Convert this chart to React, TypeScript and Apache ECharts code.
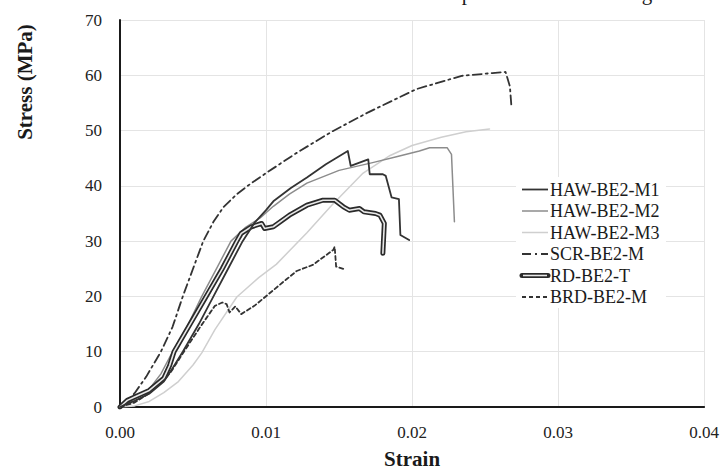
import React, { useEffect, useRef } from "react";
import * as echarts from "echarts";

// Strain–stress records for each specimen
const hawM1Strain = [0, 0.0005, 0.001, 0.002, 0.003, 0.0036, 0.0043, 0.0054, 0.0064, 0.0074, 0.0084, 0.0092, 0.01, 0.0105, 0.0117, 0.0128, 0.0141, 0.0156, 0.0158, 0.017, 0.0171, 0.018, 0.0182, 0.0186, 0.0191, 0.0192, 0.0198];
const hawM1Stress = [0, 0.6, 1.1, 2.4, 4.6, 7, 10, 15, 20, 25, 30, 33.3, 35.6, 37.2, 39.6, 41.5, 43.9, 46.3, 43.6, 44.8, 42.1, 42.1, 41.8, 37.9, 37.6, 31.1, 30.2];

const hawM2Strain = [0, 0.0005, 0.001, 0.002, 0.0028, 0.0034, 0.0045, 0.0056, 0.0066, 0.0076, 0.0086, 0.0096, 0.0105, 0.0116, 0.0128, 0.015, 0.0173, 0.019, 0.0205, 0.0212, 0.0224, 0.0227, 0.0229];
const hawM2Stress = [0, 0.8, 1.6, 3.2, 6, 9, 14, 20, 25, 30, 32.5, 34.2, 36.3, 38.5, 40.5, 42.8, 44.2, 45.3, 46.3, 46.9, 46.9, 45.7, 33.5];

const hawM3Strain = [0, 0.001, 0.002, 0.003, 0.004, 0.005, 0.0056, 0.0065, 0.008, 0.0095, 0.0107, 0.0128, 0.0145, 0.0166, 0.0185, 0.02, 0.022, 0.0237, 0.0253];
const hawM3Stress = [0, 0.2, 1, 2.6, 4.6, 7.6, 9.8, 14, 19.9, 23.4, 25.8, 31.5, 36.5, 42.2, 45.5, 47.3, 48.8, 49.8, 50.3];

const scrStrain = [0, 0.0005, 0.001, 0.0018, 0.0028, 0.0036, 0.0043, 0.005, 0.0057, 0.0064, 0.0071, 0.008, 0.009, 0.01, 0.012, 0.0145, 0.017, 0.0203, 0.0234, 0.0255, 0.0264, 0.0267, 0.0268];
const scrStress = [0, 0.9, 2.5, 5.5, 10, 14.5, 20, 25, 30, 33.5, 36.2, 38.5, 40.5, 42.3, 45.8, 49.8, 53.3, 57.5, 59.9, 60.4, 60.6, 58, 54.5];

const rdStrain = [0, 0.0005, 0.001, 0.002, 0.003, 0.0034, 0.0037, 0.0048, 0.0059, 0.007, 0.008, 0.0083, 0.009, 0.0097, 0.0099, 0.0105, 0.0116, 0.0128, 0.0139, 0.0147, 0.0153, 0.0157, 0.0164, 0.0167, 0.0175, 0.0178, 0.0181, 0.018];
const rdStress = [0, 1.2, 1.8, 3, 5.2, 7.5, 10, 15, 20, 25, 30, 31.4, 32.6, 33.2, 32.3, 32.6, 34.7, 36.5, 37.4, 37.4, 36.2, 35.6, 35.9, 35.3, 35, 34.7, 33.2, 27.8];

const brdStrain = [0, 0.001, 0.002, 0.003, 0.0035, 0.0045, 0.0055, 0.0065, 0.007, 0.0073, 0.0075, 0.0079, 0.0083, 0.0092, 0.0098, 0.0114, 0.0121, 0.0132, 0.0146, 0.0147, 0.0148, 0.0154];
const brdStress = [0, 0.8, 2.5, 4.8, 6.4, 10.5, 14.5, 18.3, 18.9, 18.6, 17.1, 18.2, 16.8, 18.3, 19.6, 23.1, 24.6, 25.7, 28.4, 29, 25.4, 24.9];

const legendNames = ["HAW-BE2-M1", "HAW-BE2-M2", "HAW-BE2-M3", "SCR-BE2-M", "RD-BE2-T", "BRD-BE2-M"];

const pairs = (xs: number[], ys: number[]) => xs.map((x, i) => [x, ys[i]]);

const FONT = "'Liberation Serif', 'Times New Roman', serif";
const DARK = "#333333";

export default function App() {
  const ref = useRef<HTMLDivElement>(null);

  useEffect(() => {
    if (!ref.current) return;
    const chart = echarts.init(ref.current, null, { renderer: "svg" });

    const line = (name: string, xs: number[], ys: number[], style: any, z = 2) => ({
      type: "line",
      name,
      data: pairs(xs, ys),
      showSymbol: false,
      symbol: "none",
      z,
      lineStyle: { cap: "round", join: "round", ...style },
    });

    // legend box drawn with graphics, on a white panel over the grid
    const legendX0 = 522;
    const legendX1 = 548;
    const rowY = [189.5, 211, 232.5, 254, 275.5, 297];
    const sampleStyles: any[] = [
      { stroke: DARK, lineWidth: 1.8 },
      { stroke: "#8c8c8c", lineWidth: 1.5 },
      { stroke: "#cfcfcf", lineWidth: 1.5 },
      { stroke: DARK, lineWidth: 1.8, lineDash: [9, 4, 2, 4] },
      null,
      { stroke: DARK, lineWidth: 1.8, lineDash: [4, 3] },
    ];
    const legendGraphics: any[] = [
      {
        type: "rect",
        shape: { x: 516, y: 177, width: 150, height: 131 },
        style: { fill: "#ffffff" },
        z: 10,
      },
    ];
    legendNames.forEach((name, i) => {
      const y = rowY[i];
      if (i === 4) {
        legendGraphics.push({
          type: "line",
          z: 11,
          shape: { x1: legendX0, y1: y, x2: legendX1, y2: y },
          style: { stroke: "#2a2a2a", lineWidth: 5, lineCap: "round" },
        });
        legendGraphics.push({
          type: "line",
          z: 12,
          shape: { x1: legendX0 + 1, y1: y, x2: legendX1 - 1, y2: y },
          style: { stroke: "#e8e8e8", lineWidth: 1.6 },
        });
      } else {
        legendGraphics.push({
          type: "line",
          z: 11,
          shape: { x1: legendX0, y1: y, x2: legendX1, y2: y },
          style: sampleStyles[i],
        });
      }
      legendGraphics.push({
        type: "text",
        z: 12,
        x: 550,
        y,
        style: {
          text: name,
          font: `18px ${FONT}`,
          fill: "#1a1a1a",
          verticalAlign: "middle",
          align: "left",
        },
      });
    });

    chart.setOption({
      animation: false,
      backgroundColor: "#ffffff",
      grid: { left: 120, right: 16, top: 20, bottom: 61.5, containLabel: false },
      xAxis: {
        type: "value",
        min: 0,
        max: 0.04,
        interval: 0.01,
        name: "Strain",
        nameLocation: "middle",
        nameGap: 41,
        nameTextStyle: { fontFamily: FONT, fontWeight: "bold", fontSize: 21, color: "#1a1a1a" },
        axisLine: { show: true, lineStyle: { color: "#1a1a1a", width: 2 } },
        axisTick: { show: false },
        axisLabel: {
          fontFamily: FONT,
          fontSize: 17,
          color: "#222",
          margin: 17,
          formatter: (v: number) => v.toFixed(2),
        },
        splitLine: { show: true, lineStyle: { color: "#e4e4e4", width: 1 } },
      },
      yAxis: {
        type: "value",
        min: 0,
        max: 70,
        interval: 10,
        axisLine: { show: true, lineStyle: { color: "#1a1a1a", width: 2 } },
        axisTick: { show: false },
        axisLabel: { fontFamily: FONT, fontSize: 17, color: "#222", margin: 18 },
        splitLine: { show: true, lineStyle: { color: "#e4e4e4", width: 1 } },
      },
      graphic: [
        {
          type: "text",
          x: 25,
          y: 82,
          rotation: Math.PI / 2,
          style: {
            text: "Stress (MPa)",
            font: `bold 21px ${FONT}`,
            fill: "#1a1a1a",
            align: "center",
            verticalAlign: "middle",
          },
        },
        {
          type: "text",
          x: 467,
          y: -6.6,
          style: { text: "p", font: `21px ${FONT}`, fill: "#1a1a1a", align: "center", verticalAlign: "middle" },
        },
        {
          type: "text",
          x: 647,
          y: -6.6,
          style: { text: "g", font: `21px ${FONT}`, fill: "#1a1a1a", align: "center", verticalAlign: "middle" },
        },
        ...legendGraphics,
      ],
      series: [
        line("HAW-BE2-M3", hawM3Strain, hawM3Stress, { color: "#cfcfcf", width: 1.5 }, 2),
        line("HAW-BE2-M2", hawM2Strain, hawM2Stress, { color: "#8c8c8c", width: 1.5 }, 3),
        line("BRD-BE2-M", brdStrain, brdStress, { color: DARK, width: 1.8, type: [4, 3] }, 4),
        line("SCR-BE2-M", scrStrain, scrStress, { color: DARK, width: 1.8, type: [9, 4, 2, 4] }, 4),
        line("RD-BE2-T", rdStrain, rdStress, { color: "#2a2a2a", width: 5 }, 5),
        line("RD-BE2-T core", rdStrain, rdStress, { color: "#e8e8e8", width: 1.6 }, 6),
        line("HAW-BE2-M1", hawM1Strain, hawM1Stress, { color: DARK, width: 1.8 }, 7),
      ],
    });

    return () => chart.dispose();
  }, []);

  return (
    <div
      ref={ref}
      style={{ position: "fixed", left: 0, top: 0, width: 722, height: 474, background: "#fff" }}
    />
  );
}
